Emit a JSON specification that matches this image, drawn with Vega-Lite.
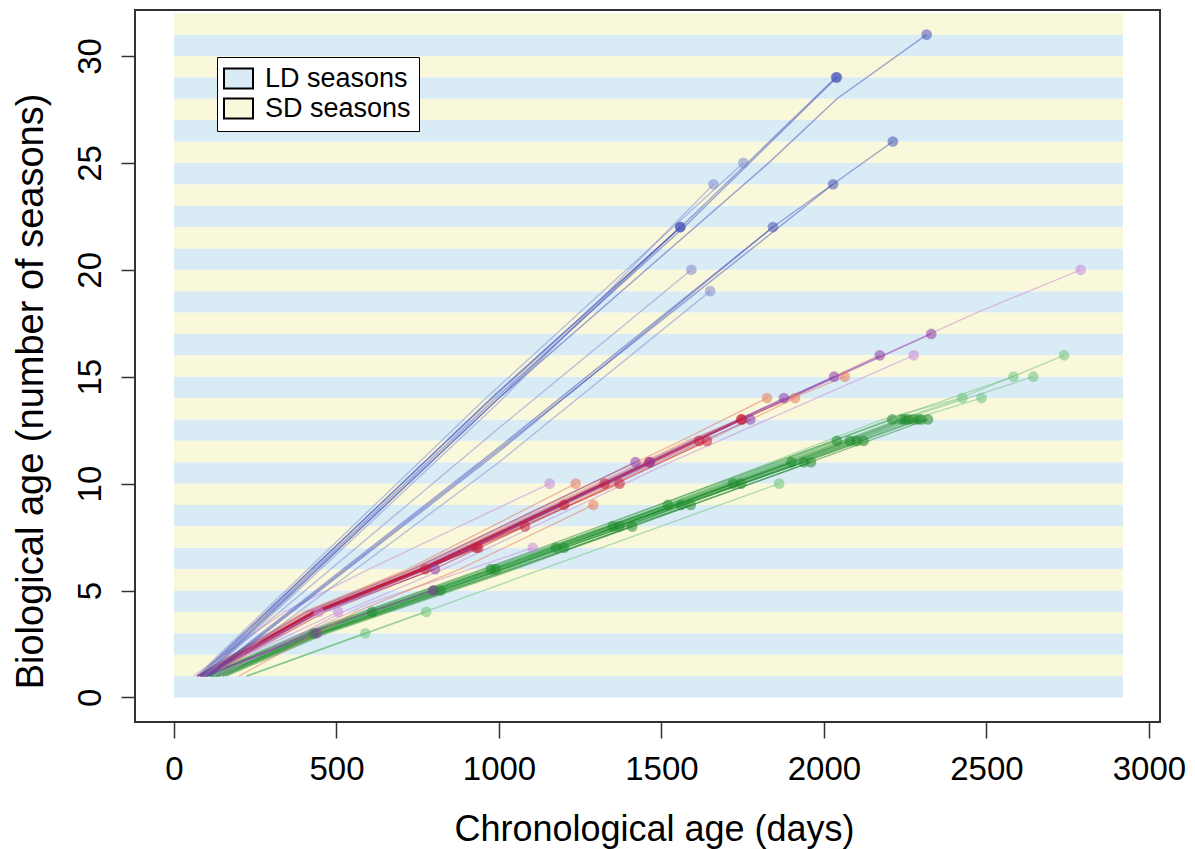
{
  "$schema": "https://vega.github.io/schema/vega-lite/v6.json",
  "width": 1025,
  "height": 712,
  "autosize": {"type": "none"},
  "padding": {"left": 135, "top": 10, "right": 35, "bottom": 127},
  "background": "white",
  "datasets": {
    "seasons": [
      {"start": 0, "end": 1, "season": "LD seasons"}, {"start": 1, "end": 2, "season": "SD seasons"},
      {"start": 2, "end": 3, "season": "LD seasons"}, {"start": 3, "end": 4, "season": "SD seasons"},
      {"start": 4, "end": 5, "season": "LD seasons"}, {"start": 5, "end": 6, "season": "SD seasons"},
      {"start": 6, "end": 7, "season": "LD seasons"}, {"start": 7, "end": 8, "season": "SD seasons"},
      {"start": 8, "end": 9, "season": "LD seasons"}, {"start": 9, "end": 10, "season": "SD seasons"},
      {"start": 10, "end": 11, "season": "LD seasons"}, {"start": 11, "end": 12, "season": "SD seasons"},
      {"start": 12, "end": 13, "season": "LD seasons"}, {"start": 13, "end": 14, "season": "SD seasons"},
      {"start": 14, "end": 15, "season": "LD seasons"}, {"start": 15, "end": 16, "season": "SD seasons"},
      {"start": 16, "end": 17, "season": "LD seasons"}, {"start": 17, "end": 18, "season": "SD seasons"},
      {"start": 18, "end": 19, "season": "LD seasons"}, {"start": 19, "end": 20, "season": "SD seasons"},
      {"start": 20, "end": 21, "season": "LD seasons"}, {"start": 21, "end": 22, "season": "SD seasons"},
      {"start": 22, "end": 23, "season": "LD seasons"}, {"start": 23, "end": 24, "season": "SD seasons"},
      {"start": 24, "end": 25, "season": "LD seasons"}, {"start": 25, "end": 26, "season": "SD seasons"},
      {"start": 26, "end": 27, "season": "LD seasons"}, {"start": 27, "end": 28, "season": "SD seasons"},
      {"start": 28, "end": 29, "season": "LD seasons"}, {"start": 29, "end": 30, "season": "SD seasons"},
      {"start": 30, "end": 31, "season": "LD seasons"}, {"start": 31, "end": 32, "season": "SD seasons"}
    ],
    "traj": [
      {"ind": "g1", "group": "slow", "day": 100, "age": 1}, {"ind": "g1", "group": "slow", "day": 425, "age": 3}, {"ind": "g1", "group": "slow", "day": 1000, "age": 6}, {"ind": "g1", "group": "slow", "day": 2260, "age": 13},
      {"ind": "g2", "group": "slow", "day": 130, "age": 1}, {"ind": "g2", "group": "slow", "day": 440, "age": 3}, {"ind": "g2", "group": "slow", "day": 1010, "age": 6}, {"ind": "g2", "group": "slow", "day": 2290, "age": 13},
      {"ind": "g3", "group": "slow", "day": 110, "age": 1}, {"ind": "g3", "group": "slow", "day": 420, "age": 3}, {"ind": "g3", "group": "slow", "day": 980, "age": 6}, {"ind": "g3", "group": "slow", "day": 2240, "age": 13},
      {"ind": "g4", "group": "slow", "day": 140, "age": 1}, {"ind": "g4", "group": "slow", "day": 450, "age": 3}, {"ind": "g4", "group": "slow", "day": 1020, "age": 6}, {"ind": "g4", "group": "slow", "day": 2300, "age": 13},
      {"ind": "g5", "group": "slow", "day": 120, "age": 1}, {"ind": "g5", "group": "slow", "day": 430, "age": 3}, {"ind": "g5", "group": "slow", "day": 995, "age": 6}, {"ind": "g5", "group": "slow", "day": 2275, "age": 13},
      {"ind": "g6", "group": "slow", "day": 105, "age": 1}, {"ind": "g6", "group": "slow", "day": 420, "age": 3}, {"ind": "g6", "group": "slow", "day": 990, "age": 6}, {"ind": "g6", "group": "slow", "day": 2250, "age": 13},
      {"ind": "g7", "group": "slow", "day": 125, "age": 1}, {"ind": "g7", "group": "slow", "day": 435, "age": 3}, {"ind": "g7", "group": "slow", "day": 1000, "age": 6}, {"ind": "g7", "group": "slow", "day": 2080, "age": 12},
      {"ind": "g8", "group": "slow", "day": 115, "age": 1}, {"ind": "g8", "group": "slow", "day": 425, "age": 3}, {"ind": "g8", "group": "slow", "day": 985, "age": 6}, {"ind": "g8", "group": "slow", "day": 2040, "age": 12},
      {"ind": "g9", "group": "slow", "day": 135, "age": 1}, {"ind": "g9", "group": "slow", "day": 445, "age": 3}, {"ind": "g9", "group": "slow", "day": 1015, "age": 6}, {"ind": "g9", "group": "slow", "day": 2122, "age": 12},
      {"ind": "g10", "group": "slow", "day": 110, "age": 1}, {"ind": "g10", "group": "slow", "day": 425, "age": 3}, {"ind": "g10", "group": "slow", "day": 990, "age": 6}, {"ind": "g10", "group": "slow", "day": 2100, "age": 12},
      {"ind": "g11", "group": "slow", "day": 120, "age": 1}, {"ind": "g11", "group": "slow", "day": 430, "age": 3}, {"ind": "g11", "group": "slow", "day": 980, "age": 6}, {"ind": "g11", "group": "slow", "day": 1938, "age": 11},
      {"ind": "g12", "group": "slow", "day": 100, "age": 1}, {"ind": "g12", "group": "slow", "day": 415, "age": 3}, {"ind": "g12", "group": "slow", "day": 975, "age": 6}, {"ind": "g12", "group": "slow", "day": 1900, "age": 11},
      {"ind": "g13", "group": "slow", "day": 130, "age": 1}, {"ind": "g13", "group": "slow", "day": 440, "age": 3}, {"ind": "g13", "group": "slow", "day": 1000, "age": 6}, {"ind": "g13", "group": "slow", "day": 1720, "age": 10},
      {"ind": "g14", "group": "slow", "day": 110, "age": 1}, {"ind": "g14", "group": "slow", "day": 425, "age": 3}, {"ind": "g14", "group": "slow", "day": 980, "age": 6}, {"ind": "g14", "group": "slow", "day": 1745, "age": 10},
      {"ind": "g15", "group": "slow", "day": 120, "age": 1}, {"ind": "g15", "group": "slow", "day": 430, "age": 3}, {"ind": "g15", "group": "slow", "day": 985, "age": 6}, {"ind": "g15", "group": "slow", "day": 1560, "age": 9},
      {"ind": "g16", "group": "slow", "day": 140, "age": 1}, {"ind": "g16", "group": "slow", "day": 445, "age": 3}, {"ind": "g16", "group": "slow", "day": 1005, "age": 6}, {"ind": "g16", "group": "slow", "day": 1590, "age": 9},
      {"ind": "g17", "group": "slow", "day": 115, "age": 1}, {"ind": "g17", "group": "slow", "day": 425, "age": 3}, {"ind": "g17", "group": "slow", "day": 990, "age": 6}, {"ind": "g17", "group": "slow", "day": 1370, "age": 8},
      {"ind": "g18", "group": "slow", "day": 125, "age": 1}, {"ind": "g18", "group": "slow", "day": 435, "age": 3}, {"ind": "g18", "group": "slow", "day": 1000, "age": 6}, {"ind": "g18", "group": "slow", "day": 1350, "age": 8},
      {"ind": "g19", "group": "slow", "day": 110, "age": 1}, {"ind": "g19", "group": "slow", "day": 420, "age": 3}, {"ind": "g19", "group": "slow", "day": 1175, "age": 7},
      {"ind": "g20", "group": "slow", "day": 130, "age": 1}, {"ind": "g20", "group": "slow", "day": 440, "age": 3}, {"ind": "g20", "group": "slow", "day": 1200, "age": 7},
      {"ind": "g21", "group": "slow", "day": 120, "age": 1}, {"ind": "g21", "group": "slow", "day": 430, "age": 3}, {"ind": "g21", "group": "slow", "day": 990, "age": 6},
      {"ind": "g22", "group": "slow", "day": 100, "age": 1}, {"ind": "g22", "group": "slow", "day": 415, "age": 3}, {"ind": "g22", "group": "slow", "day": 975, "age": 6},
      {"ind": "g23", "group": "slow", "day": 115, "age": 1}, {"ind": "g23", "group": "slow", "day": 425, "age": 3}, {"ind": "g23", "group": "slow", "day": 800, "age": 5},
      {"ind": "g24", "group": "slow", "day": 140, "age": 1}, {"ind": "g24", "group": "slow", "day": 445, "age": 3}, {"ind": "g24", "group": "slow", "day": 820, "age": 5},
      {"ind": "g25", "group": "slow", "day": 120, "age": 1}, {"ind": "g25", "group": "slow", "day": 270, "age": 2}, {"ind": "g25", "group": "slow", "day": 610, "age": 4},
      {"ind": "g26", "group": "slow", "day": 130, "age": 1}, {"ind": "g26", "group": "slow", "day": 280, "age": 2}, {"ind": "g26", "group": "slow", "day": 430, "age": 3},
      {"ind": "g27", "group": "slow-pale", "day": 120, "age": 1}, {"ind": "g27", "group": "slow-pale", "day": 430, "age": 3}, {"ind": "g27", "group": "slow-pale", "day": 1000, "age": 6}, {"ind": "g27", "group": "slow-pale", "day": 2230, "age": 13}, {"ind": "g27", "group": "slow-pale", "day": 2426, "age": 14},
      {"ind": "g28", "group": "slow-pale", "day": 140, "age": 1}, {"ind": "g28", "group": "slow-pale", "day": 450, "age": 3}, {"ind": "g28", "group": "slow-pale", "day": 1020, "age": 6}, {"ind": "g28", "group": "slow-pale", "day": 2270, "age": 13}, {"ind": "g28", "group": "slow-pale", "day": 2485, "age": 14},
      {"ind": "g29", "group": "slow-pale", "day": 110, "age": 1}, {"ind": "g29", "group": "slow-pale", "day": 420, "age": 3}, {"ind": "g29", "group": "slow-pale", "day": 990, "age": 6}, {"ind": "g29", "group": "slow-pale", "day": 2200, "age": 13}, {"ind": "g29", "group": "slow-pale", "day": 2583, "age": 15},
      {"ind": "g30", "group": "slow-pale", "day": 125, "age": 1}, {"ind": "g30", "group": "slow-pale", "day": 435, "age": 3}, {"ind": "g30", "group": "slow-pale", "day": 1000, "age": 6}, {"ind": "g30", "group": "slow-pale", "day": 2240, "age": 13}, {"ind": "g30", "group": "slow-pale", "day": 2644, "age": 15},
      {"ind": "g31", "group": "slow-pale", "day": 100, "age": 1}, {"ind": "g31", "group": "slow-pale", "day": 415, "age": 3}, {"ind": "g31", "group": "slow-pale", "day": 980, "age": 6}, {"ind": "g31", "group": "slow-pale", "day": 2180, "age": 13}, {"ind": "g31", "group": "slow-pale", "day": 2420, "age": 14}, {"ind": "g31", "group": "slow-pale", "day": 2739, "age": 16},
      {"ind": "g32", "group": "slow-pale", "day": 224, "age": 1}, {"ind": "g32", "group": "slow-pale", "day": 1862, "age": 10},
      {"ind": "g33", "group": "slow-pale", "day": 224, "age": 1}, {"ind": "g33", "group": "slow-pale", "day": 589, "age": 3},
      {"ind": "g34", "group": "slow-pale", "day": 224, "age": 1}, {"ind": "g34", "group": "slow-pale", "day": 776, "age": 4},
      {"ind": "g35", "group": "slow", "day": 95, "age": 1}, {"ind": "g35", "group": "slow", "day": 405, "age": 3}, {"ind": "g35", "group": "slow", "day": 960, "age": 6}, {"ind": "g35", "group": "slow", "day": 1520, "age": 9},
      {"ind": "g36", "group": "slow", "day": 150, "age": 1}, {"ind": "g36", "group": "slow", "day": 460, "age": 3}, {"ind": "g36", "group": "slow", "day": 1035, "age": 6}, {"ind": "g36", "group": "slow", "day": 1410, "age": 8},
      {"ind": "g37", "group": "slow", "day": 90, "age": 1}, {"ind": "g37", "group": "slow", "day": 395, "age": 3}, {"ind": "g37", "group": "slow", "day": 950, "age": 6}, {"ind": "g37", "group": "slow", "day": 2210, "age": 13},
      {"ind": "g38", "group": "slow", "day": 160, "age": 1}, {"ind": "g38", "group": "slow", "day": 470, "age": 3}, {"ind": "g38", "group": "slow", "day": 1050, "age": 6}, {"ind": "g38", "group": "slow", "day": 2320, "age": 13},
      {"ind": "g39", "group": "slow", "day": 150, "age": 1}, {"ind": "g39", "group": "slow", "day": 455, "age": 3}, {"ind": "g39", "group": "slow", "day": 1040, "age": 6}, {"ind": "g39", "group": "slow", "day": 1960, "age": 11},

      {"ind": "r1", "group": "mid-pale", "day": 80, "age": 1}, {"ind": "r1", "group": "mid-pale", "day": 430, "age": 4}, {"ind": "r1", "group": "mid-pale", "day": 760, "age": 6}, {"ind": "r1", "group": "mid-pale", "day": 1600, "age": 12}, {"ind": "r1", "group": "mid-pale", "day": 2470, "age": 18}, {"ind": "r1", "group": "mid-pale", "day": 2790, "age": 20},
      {"ind": "r2", "group": "mid-purple", "day": 85, "age": 1}, {"ind": "r2", "group": "mid-purple", "day": 435, "age": 4}, {"ind": "r2", "group": "mid-purple", "day": 765, "age": 6}, {"ind": "r2", "group": "mid-purple", "day": 1605, "age": 12}, {"ind": "r2", "group": "mid-purple", "day": 2330, "age": 17},
      {"ind": "r3", "group": "mid-purple", "day": 90, "age": 1}, {"ind": "r3", "group": "mid-purple", "day": 440, "age": 4}, {"ind": "r3", "group": "mid-purple", "day": 770, "age": 6}, {"ind": "r3", "group": "mid-purple", "day": 1610, "age": 12}, {"ind": "r3", "group": "mid-purple", "day": 2172, "age": 16},
      {"ind": "r4", "group": "mid-pale", "day": 140, "age": 1}, {"ind": "r4", "group": "mid-pale", "day": 520, "age": 4}, {"ind": "r4", "group": "mid-pale", "day": 830, "age": 6}, {"ind": "r4", "group": "mid-pale", "day": 1528, "age": 11}, {"ind": "r4", "group": "mid-pale", "day": 2276, "age": 16},
      {"ind": "r5", "group": "mid-purple", "day": 80, "age": 1}, {"ind": "r5", "group": "mid-purple", "day": 425, "age": 4}, {"ind": "r5", "group": "mid-purple", "day": 750, "age": 6}, {"ind": "r5", "group": "mid-purple", "day": 1590, "age": 12}, {"ind": "r5", "group": "mid-purple", "day": 2031, "age": 15},
      {"ind": "r6", "group": "mid-orange", "day": 75, "age": 1}, {"ind": "r6", "group": "mid-orange", "day": 415, "age": 4}, {"ind": "r6", "group": "mid-orange", "day": 740, "age": 6}, {"ind": "r6", "group": "mid-orange", "day": 1580, "age": 12}, {"ind": "r6", "group": "mid-orange", "day": 2064, "age": 15},
      {"ind": "r7", "group": "mid-orange", "day": 70, "age": 1}, {"ind": "r7", "group": "mid-orange", "day": 405, "age": 4}, {"ind": "r7", "group": "mid-orange", "day": 730, "age": 6}, {"ind": "r7", "group": "mid-orange", "day": 1560, "age": 12}, {"ind": "r7", "group": "mid-orange", "day": 1825, "age": 14},
      {"ind": "r8", "group": "mid-purple", "day": 85, "age": 1}, {"ind": "r8", "group": "mid-purple", "day": 430, "age": 4}, {"ind": "r8", "group": "mid-purple", "day": 760, "age": 6}, {"ind": "r8", "group": "mid-purple", "day": 1600, "age": 12}, {"ind": "r8", "group": "mid-purple", "day": 1877, "age": 14},
      {"ind": "r9", "group": "mid-orange", "day": 90, "age": 1}, {"ind": "r9", "group": "mid-orange", "day": 445, "age": 4}, {"ind": "r9", "group": "mid-orange", "day": 775, "age": 6}, {"ind": "r9", "group": "mid-orange", "day": 1641, "age": 12}, {"ind": "r9", "group": "mid-orange", "day": 1911, "age": 14},
      {"ind": "r10", "group": "mid-red", "day": 80, "age": 1}, {"ind": "r10", "group": "mid-red", "day": 430, "age": 4}, {"ind": "r10", "group": "mid-red", "day": 760, "age": 6}, {"ind": "r10", "group": "mid-red", "day": 1616, "age": 12},
      {"ind": "r11", "group": "mid-red", "day": 95, "age": 1}, {"ind": "r11", "group": "mid-red", "day": 450, "age": 4}, {"ind": "r11", "group": "mid-red", "day": 780, "age": 6}, {"ind": "r11", "group": "mid-red", "day": 1748, "age": 13},
      {"ind": "r12", "group": "mid-purple", "day": 90, "age": 1}, {"ind": "r12", "group": "mid-purple", "day": 440, "age": 4}, {"ind": "r12", "group": "mid-purple", "day": 765, "age": 6}, {"ind": "r12", "group": "mid-purple", "day": 1773, "age": 13},
      {"ind": "r13", "group": "mid-red", "day": 80, "age": 1}, {"ind": "r13", "group": "mid-red", "day": 430, "age": 4}, {"ind": "r13", "group": "mid-red", "day": 760, "age": 6}, {"ind": "r13", "group": "mid-red", "day": 1462, "age": 11},
      {"ind": "r14", "group": "mid-red", "day": 90, "age": 1}, {"ind": "r14", "group": "mid-red", "day": 440, "age": 4}, {"ind": "r14", "group": "mid-red", "day": 770, "age": 6}, {"ind": "r14", "group": "mid-red", "day": 1371, "age": 10},
      {"ind": "r15", "group": "mid-red", "day": 85, "age": 1}, {"ind": "r15", "group": "mid-red", "day": 435, "age": 4}, {"ind": "r15", "group": "mid-red", "day": 760, "age": 6}, {"ind": "r15", "group": "mid-red", "day": 1325, "age": 10},
      {"ind": "r16", "group": "mid-orange", "day": 70, "age": 1}, {"ind": "r16", "group": "mid-orange", "day": 400, "age": 4}, {"ind": "r16", "group": "mid-orange", "day": 720, "age": 6}, {"ind": "r16", "group": "mid-orange", "day": 1236, "age": 10},
      {"ind": "r17", "group": "mid-pale", "day": 60, "age": 1}, {"ind": "r17", "group": "mid-pale", "day": 340, "age": 4}, {"ind": "r17", "group": "mid-pale", "day": 600, "age": 6}, {"ind": "r17", "group": "mid-pale", "day": 1156, "age": 10},
      {"ind": "r18", "group": "mid-red", "day": 80, "age": 1}, {"ind": "r18", "group": "mid-red", "day": 430, "age": 4}, {"ind": "r18", "group": "mid-red", "day": 760, "age": 6}, {"ind": "r18", "group": "mid-red", "day": 1200, "age": 9},
      {"ind": "r19", "group": "mid-red", "day": 85, "age": 1}, {"ind": "r19", "group": "mid-red", "day": 435, "age": 4}, {"ind": "r19", "group": "mid-red", "day": 770, "age": 6}, {"ind": "r19", "group": "mid-red", "day": 1080, "age": 8},
      {"ind": "r20", "group": "mid-red", "day": 90, "age": 1}, {"ind": "r20", "group": "mid-red", "day": 440, "age": 4}, {"ind": "r20", "group": "mid-red", "day": 600, "age": 5}, {"ind": "r20", "group": "mid-red", "day": 936, "age": 7},
      {"ind": "r21", "group": "mid-red", "day": 80, "age": 1}, {"ind": "r21", "group": "mid-red", "day": 440, "age": 4}, {"ind": "r21", "group": "mid-red", "day": 773, "age": 6},
      {"ind": "r22", "group": "mid-purple", "day": 85, "age": 1}, {"ind": "r22", "group": "mid-purple", "day": 450, "age": 4}, {"ind": "r22", "group": "mid-purple", "day": 803, "age": 6},
      {"ind": "r23", "group": "mid-pale", "day": 120, "age": 1}, {"ind": "r23", "group": "mid-pale", "day": 600, "age": 4.4}, {"ind": "r23", "group": "mid-pale", "day": 1104, "age": 7},
      {"ind": "r24", "group": "mid-purple", "day": 100, "age": 1}, {"ind": "r24", "group": "mid-purple", "day": 450, "age": 3.2}, {"ind": "r24", "group": "mid-purple", "day": 797, "age": 5},
      {"ind": "r25", "group": "mid-purple", "day": 90, "age": 1}, {"ind": "r25", "group": "mid-purple", "day": 439, "age": 3},
      {"ind": "r26", "group": "mid-pale", "day": 80, "age": 1}, {"ind": "r26", "group": "mid-pale", "day": 445, "age": 4},
      {"ind": "r27", "group": "mid-pale", "day": 90, "age": 1}, {"ind": "r27", "group": "mid-pale", "day": 505, "age": 4},
      {"ind": "r28", "group": "mid-red", "day": 75, "age": 1}, {"ind": "r28", "group": "mid-red", "day": 425, "age": 4}, {"ind": "r28", "group": "mid-red", "day": 755, "age": 6}, {"ind": "r28", "group": "mid-red", "day": 1600, "age": 12}, {"ind": "r28", "group": "mid-red", "day": 1745, "age": 13},
      {"ind": "r29", "group": "mid-purple", "day": 95, "age": 1}, {"ind": "r29", "group": "mid-purple", "day": 450, "age": 4}, {"ind": "r29", "group": "mid-purple", "day": 780, "age": 6}, {"ind": "r29", "group": "mid-purple", "day": 1465, "age": 11},
      {"ind": "r30", "group": "mid-red", "day": 85, "age": 1}, {"ind": "r30", "group": "mid-red", "day": 435, "age": 4}, {"ind": "r30", "group": "mid-red", "day": 600, "age": 5}, {"ind": "r30", "group": "mid-red", "day": 930, "age": 7},
      {"ind": "r31", "group": "mid-orange", "day": 200, "age": 1}, {"ind": "r31", "group": "mid-orange", "day": 560, "age": 4}, {"ind": "r31", "group": "mid-orange", "day": 880, "age": 6}, {"ind": "r31", "group": "mid-orange", "day": 1290, "age": 9},
      {"ind": "r32", "group": "mid-red", "day": 100, "age": 1}, {"ind": "r32", "group": "mid-red", "day": 465, "age": 4}, {"ind": "r32", "group": "mid-red", "day": 800, "age": 6}, {"ind": "r32", "group": "mid-red", "day": 1640, "age": 12},
      {"ind": "r33", "group": "mid-purple", "day": 70, "age": 1}, {"ind": "r33", "group": "mid-purple", "day": 410, "age": 4}, {"ind": "r33", "group": "mid-purple", "day": 735, "age": 6}, {"ind": "r33", "group": "mid-purple", "day": 1420, "age": 11},

      {"ind": "b1", "group": "fast", "day": 90, "age": 1}, {"ind": "b1", "group": "fast", "day": 1000, "age": 14}, {"ind": "b1", "group": "fast", "day": 1830, "age": 25}, {"ind": "b1", "group": "fast", "day": 2040, "age": 28}, {"ind": "b1", "group": "fast", "day": 2316, "age": 31},
      {"ind": "b2", "group": "fast", "day": 80, "age": 1}, {"ind": "b2", "group": "fast", "day": 990, "age": 14.2}, {"ind": "b2", "group": "fast", "day": 1560, "age": 22}, {"ind": "b2", "group": "fast", "day": 2037, "age": 29},
      {"ind": "b3", "group": "fast", "day": 85, "age": 1}, {"ind": "b3", "group": "fast", "day": 990, "age": 14}, {"ind": "b3", "group": "fast", "day": 1570, "age": 22}, {"ind": "b3", "group": "fast", "day": 2040, "age": 29},
      {"ind": "b4", "group": "fast", "day": 75, "age": 1}, {"ind": "b4", "group": "fast", "day": 980, "age": 14}, {"ind": "b4", "group": "fast", "day": 1558, "age": 22},
      {"ind": "b5", "group": "fast", "day": 95, "age": 1}, {"ind": "b5", "group": "fast", "day": 1000, "age": 14}, {"ind": "b5", "group": "fast", "day": 1558, "age": 22},
      {"ind": "b6", "group": "fast-pale", "day": 70, "age": 1}, {"ind": "b6", "group": "fast-pale", "day": 960, "age": 14}, {"ind": "b6", "group": "fast-pale", "day": 1752, "age": 25},
      {"ind": "b7", "group": "fast-pale", "day": 100, "age": 1}, {"ind": "b7", "group": "fast-pale", "day": 1000, "age": 13.8}, {"ind": "b7", "group": "fast-pale", "day": 1660, "age": 24},
      {"ind": "b8", "group": "fast", "day": 100, "age": 1}, {"ind": "b8", "group": "fast", "day": 1000, "age": 11.7}, {"ind": "b8", "group": "fast", "day": 1843, "age": 22}, {"ind": "b8", "group": "fast", "day": 2212, "age": 26},
      {"ind": "b9", "group": "fast", "day": 105, "age": 1}, {"ind": "b9", "group": "fast", "day": 1000, "age": 11.6}, {"ind": "b9", "group": "fast", "day": 2028, "age": 24},
      {"ind": "b10", "group": "fast", "day": 110, "age": 1}, {"ind": "b10", "group": "fast", "day": 1000, "age": 11.5}, {"ind": "b10", "group": "fast", "day": 1843, "age": 22},
      {"ind": "b11", "group": "fast-pale", "day": 90, "age": 1}, {"ind": "b11", "group": "fast-pale", "day": 1000, "age": 12.6}, {"ind": "b11", "group": "fast-pale", "day": 1592, "age": 20},
      {"ind": "b12", "group": "fast-pale", "day": 120, "age": 1}, {"ind": "b12", "group": "fast-pale", "day": 1000, "age": 11}, {"ind": "b12", "group": "fast-pale", "day": 1650, "age": 19}
    ]
  },
  "layer": [
    {
      "data": {"name": "seasons"},
      "mark": {"type": "rect"},
      "encoding": {
        "x": {"datum": 0, "type": "quantitative", "scale": {"domain": [-120, 3034], "nice": false, "zero": false}},
        "x2": {"datum": 2920},
        "y": {"field": "start", "type": "quantitative", "scale": {"domain": [-1.15, 32.15], "nice": false, "zero": false}},
        "y2": {"field": "end"},
        "fill": {
          "field": "season", "type": "nominal",
          "scale": {"domain": ["LD seasons", "SD seasons"], "range": ["#D9ECF6", "#FAF8DA"]},
          "legend": {
            "orient": "none", "legendX": 82, "legendY": 47, "title": null,
            "symbolType": "M-1.45,-1H1.45V1H-1.45Z", "symbolSize": 400,
            "symbolStrokeColor": "black", "symbolStrokeWidth": 2, "symbolOpacity": 1,
            "labelFontSize": 27, "labelFont": "Liberation Sans", "labelColor": "black",
            "fillColor": "white", "strokeColor": "black", "padding": 8, "rowPadding": 1, "labelOffset": 13
          }
        }
      }
    },
    {
      "data": {"name": "traj"},
      "mark": {"type": "line", "opacity": 0.5},
      "encoding": {
        "x": {
          "field": "day", "type": "quantitative",
          "scale": {"domain": [-120, 3034], "nice": false, "zero": false},
          "axis": {
            "values": [0, 500, 1000, 1500, 2000, 2500, 3000], "format": "d",
            "domain": false, "grid": false, "tickSize": 16, "tickColor": "#333", "tickWidth": 1.5,
            "labelFontSize": 33, "labelFont": "Liberation Sans", "labelColor": "black",
            "labelBaseline": "alphabetic", "labelPadding": 41, "labelFlush": false, "labelOverlap": false,
            "title": "Chronological age (days)", "titleFontSize": 36, "titleFont": "Liberation Sans",
            "titleFontWeight": "normal", "titleColor": "black", "titleBaseline": "alphabetic",
            "titleAlign": "center", "titleX": 519, "titleY": 118
          }
        },
        "y": {
          "field": "age", "type": "quantitative",
          "scale": {"domain": [-1.15, 32.15], "nice": false, "zero": false},
          "axis": {
            "values": [0, 5, 10, 15, 20, 25, 30], "format": "d",
            "domain": false, "grid": false, "tickSize": 14, "tickColor": "#333", "tickWidth": 1.5,
            "labelAngle": -90, "labelAlign": "center", "labelBaseline": "alphabetic", "labelPadding": 21,
            "labelFontSize": 33, "labelFont": "Liberation Sans", "labelColor": "black",
            "labelFlush": false, "labelOverlap": false,
            "title": "Biological age (number of seasons)", "titleFontSize": 38, "titleFont": "Liberation Sans",
            "titleFontWeight": "normal", "titleColor": "black", "titleAngle": -90,
            "titleAlign": "center", "titleBaseline": "alphabetic", "titleX": -93, "titleY": 381
          }
        },
        "detail": {"field": "ind"},
        "color": {
          "field": "group", "type": "nominal",
          "scale": {
            "domain": ["fast", "fast-pale", "mid-red", "mid-purple", "mid-orange", "mid-pale", "slow", "slow-pale"],
            "range": ["#4452B8", "#7F8AD0", "#C41E3A", "#8E3BA8", "#E57A5C", "#C88AD8", "#1E8A2C", "#6DC27B"]
          },
          "legend": null
        },
        "strokeWidth": {
          "field": "group", "type": "nominal",
          "scale": {
            "domain": ["fast", "fast-pale", "mid-red", "mid-purple", "mid-orange", "mid-pale", "slow", "slow-pale"],
            "range": [1.4, 1.4, 2.4, 2.2, 1.8, 1.6, 2.8, 1.8]
          },
          "legend": null
        }
      }
    },
    {
      "data": {"name": "traj"},
      "transform": [
        {"joinaggregate": [{"op": "max", "field": "age", "as": "maxage"}], "groupby": ["ind"]},
        {"filter": "datum.age == datum.maxage"}
      ],
      "mark": {"type": "circle", "size": 115, "opacity": 0.55},
      "encoding": {
        "x": {"field": "day", "type": "quantitative", "scale": {"domain": [-120, 3034], "nice": false, "zero": false}},
        "y": {"field": "age", "type": "quantitative", "scale": {"domain": [-1.15, 32.15], "nice": false, "zero": false}},
        "color": {"field": "group", "type": "nominal", "legend": null}
      }
    }
  ],
  "config": {
    "view": {"stroke": "#333", "strokeWidth": 2},
    "font": "Liberation Sans"
  }
}
